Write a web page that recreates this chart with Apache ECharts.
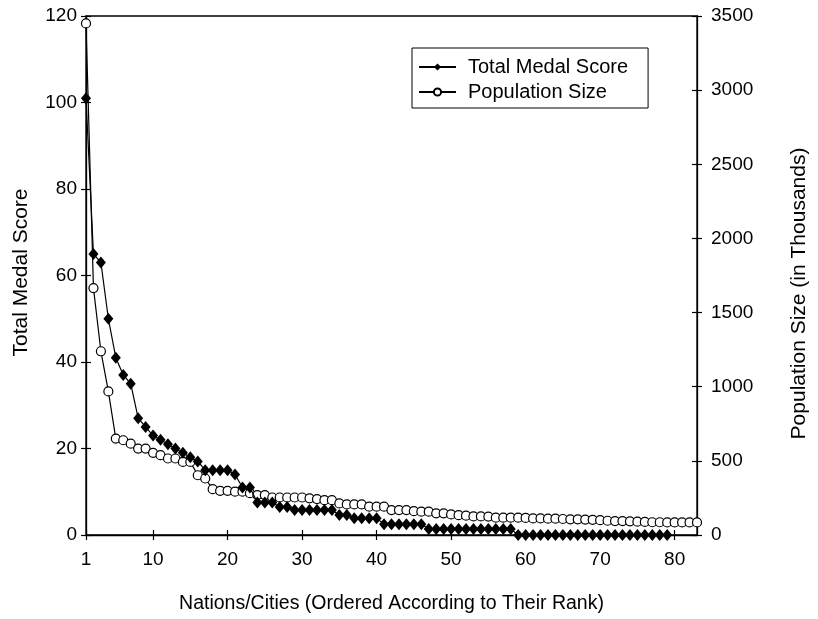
<!DOCTYPE html>
<html>
<head>
<meta charset="utf-8">
<script src="https://cdn.jsdelivr.net/npm/echarts@6/dist/echarts.min.js"></script>
<style>
  * { margin: 0; padding: 0; }
  body { background: #fff; }
</style>
</head>
<body>
<!-- chart container -->
<div id="medalChart" style="width: 818px; height: 619px;"></div>
<script>
  // values, rank 1 first
  var medalScore = [101, 65, 63, 50, 41, 37, 35, 27, 25, 23, 22, 21, 20, 19, 18, 17, 15, 15, 15, 15,
    14, 11, 11, 7.5, 7.5, 7.5, 6.5, 6.5, 5.8, 5.8, 5.8, 5.8, 5.8, 5.8, 4.6, 4.6, 3.9, 3.9, 3.9, 3.9,
    2.5, 2.5, 2.5, 2.5, 2.5, 2.5, 1.4, 1.4, 1.4, 1.4, 1.4, 1.4, 1.4, 1.4, 1.4, 1.4, 1.4, 1.4,
    0, 0, 0, 0, 0, 0, 0, 0, 0, 0, 0, 0, 0, 0, 0, 0, 0, 0, 0, 0, 0];
  var populationSize = [3450, 1665, 1239, 968, 650, 639, 616, 583, 583, 554, 538, 516, 516, 493, 493, 403, 381, 309, 298, 298,
    292, 292, 282, 269, 269, 253, 253, 253, 253, 253, 247, 242, 235, 235, 213, 206, 206, 206, 191, 191,
    191, 168, 168, 168, 161, 157, 157, 146, 146, 139, 134, 130, 125, 125, 124, 117, 117, 117, 117, 115,
    112, 112, 110, 110, 108, 106, 106, 104, 102, 100, 96, 94, 94, 92, 90, 88, 86, 86, 85, 85,
    85, 85, 85];
  var rankTicks = [1, 10, 20, 30, 40, 50, 60, 70, 80];
  var leftTicks = [0, 20, 40, 60, 80, 100, 120];
  var rightTicks = [0, 500, 1000, 1500, 2000, 2500, 3000, 3500];

  var font = 'Liberation Sans, Arial, Helvetica, sans-serif';

  function pairs(arr) {
    return arr.map(function (v, i) { return [i + 1, v]; });
  }

  var chart = echarts.init(document.getElementById('medalChart'));

  var tickIn = { show: true, inside: true, length: 5, lineStyle: { color: '#000', width: 1.2 } };
  var tickOut = { show: true, inside: false, length: 5, lineStyle: { color: '#000', width: 1.2 } };
  var axLine = { show: true, lineStyle: { color: '#000', width: 1.3 } };

  chart.setOption({
    animation: false,
    backgroundColor: '#fff',
    textStyle: { fontFamily: font, color: '#000' },
    grid: {
      left: 86, right: 121, top: 16, bottom: 82,
      show: true, borderColor: '#000', borderWidth: 1.3, backgroundColor: 'transparent'
    },
    legend: {
      orient: 'vertical',
      left: 412, top: 48,
      padding: [9, 20, 6, 6],
      borderColor: '#000', borderWidth: 1,
      itemWidth: 37, itemHeight: 9, itemGap: 5,
      textStyle: { fontSize: 20, lineHeight: 20, color: '#000', fontFamily: font, padding: [0, 0, 0, 7] },
      data: ['Total Medal Score', 'Population Size']
    },
    xAxis: [
      {
        type: 'value', min: 1, max: 83,
        name: 'Nations/Cities (Ordered According to Their Rank)',
        nameLocation: 'middle', nameGap: 59,
        nameTextStyle: { fontSize: 19.5, color: '#000', fontFamily: font },
        axisLine: axLine,
        axisTick: Object.assign({ customValues: rankTicks }, tickOut),
        axisLabel: { customValues: rankTicks, fontSize: 19, color: '#000', margin: 15, fontFamily: font },
        splitLine: { show: false }
      },
      {
        type: 'value', min: 1, max: 83, position: 'bottom',
        axisLine: { show: false },
        axisTick: Object.assign({ customValues: rankTicks }, tickIn),
        axisLabel: { show: false },
        splitLine: { show: false }
      }
    ],
    yAxis: [
      {
        type: 'value', min: 0, max: 120, interval: 20, position: 'left',
        name: 'Total Medal Score',
        nameLocation: 'middle', nameGap: 54,
        nameTextStyle: { fontSize: 21, color: '#000', fontFamily: font, padding: [0, 0, 0, 6] },
        axisLine: axLine, axisTick: tickOut,
        axisLabel: { fontSize: 19, color: '#000', margin: 9, fontFamily: font,
          customValues: leftTicks },
        splitLine: { show: false }
      },
      {
        type: 'value', min: 0, max: 3500, interval: 500, position: 'right',
        name: 'Population Size (in Thousands)',
        nameLocation: 'middle', nameGap: 92,
        nameTextStyle: { fontSize: 21, color: '#000', fontFamily: font, padding: [0, 36, 0, 0] },
        axisLine: axLine, axisTick: tickOut,
        axisLabel: { fontSize: 19, color: '#000', margin: 14, fontFamily: font,
          customValues: rightTicks, formatter: function (v) { return String(v); } },
        splitLine: { show: false }
      },
      {
        type: 'value', min: 0, max: 120, interval: 20, position: 'left',
        axisLine: { show: false }, axisTick: tickIn, axisLabel: { show: false },
        splitLine: { show: false }
      },
      {
        type: 'value', min: 0, max: 3500, interval: 500, position: 'right',
        axisLine: { show: false }, axisTick: tickIn, axisLabel: { show: false },
        splitLine: { show: false }
      }
    ],
    series: [
      {
        name: 'Population Size',
        type: 'line',
        yAxisIndex: 1,
        data: pairs(populationSize),
        symbol: 'circle', symbolSize: 9,
        lineStyle: { color: '#000', width: 1.2 },
        itemStyle: { color: '#fff', borderColor: '#000', borderWidth: 1.2 },
        z: 2
      },
      {
        name: 'Total Medal Score',
        type: 'line',
        yAxisIndex: 0,
        data: pairs(medalScore),
        symbol: 'diamond', symbolSize: [10, 12],
        lineStyle: { color: '#000', width: 1.2 },
        itemStyle: { color: '#000' },
        z: 3
      }
    ]
  });
</script>
</body>
</html>
